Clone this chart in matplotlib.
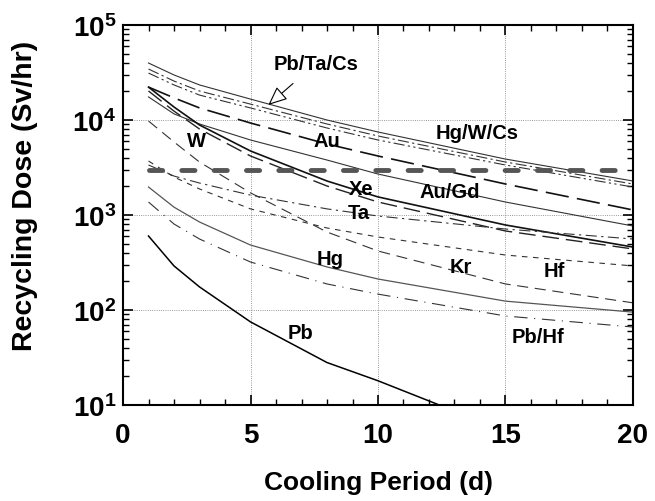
import numpy as np
import matplotlib
matplotlib.use("Agg")
from matplotlib import pyplot as plt
from matplotlib.ticker import FixedLocator, FuncFormatter, LogLocator, NullFormatter

plt.rcParams['font.family'] = ['Liberation Sans', 'DejaVu Sans']
plt.rcParams['font.weight'] = 'bold'
plt.rcParams['mathtext.fontset'] = 'custom'
plt.rcParams['mathtext.rm'] = 'Liberation Sans:bold'
plt.rcParams['mathtext.bf'] = 'Liberation Sans:bold'

# cooling period (d) where curves were read
days = [1, 2, 3, 5, 8, 10, 15, 20]

# recycling dose (Sv/hr)
pbtacs_solid = [39800, 29800, 23400, 16600, 10000, 7480, 3880, 2280]
pbtacs_dashdot = [34400, 25700, 20200, 14700, 9080, 6790, 3610, 2120]
hgwcs = [31200, 23400, 18300, 13400, 8240, 6160, 3360, 1970]
au_dash = [22200, 17100, 13400, 9300, 5590, 4180, 2120, 1130]
au_solid = [17500, 11600, 9080, 6160, 3790, 2700, 1370, 766]
w_solid = [22200, 13700, 8860, 4720, 2280, 1550, 785, 460]
w_dash = [20200, 12400, 8040, 4180, 2020, 1370, 679, 439]
ta = [3360, 2570, 2170, 1620, 1160, 976, 712, 559]
hf = [3700, 2510, 1880, 1160, 730, 587, 379, 291]
kr = [9760, 5870, 3610, 1710, 662, 418, 188, 119]
hg = [1970, 1210, 844, 483, 284, 212, 124, 95]
pbhf = [1370, 804, 559, 320, 188, 147, 86.5, 66.2]

pb_days = [1, 2, 3, 5, 8, 10, 15]
pb = [601, 291, 175, 75, 28, 18, 5.3]

limit_days = [1, 20]
limit_dose = [3000, 3000]

fig = plt.figure(figsize=(6.55, 5.02), dpi=100)
ax = fig.add_axes([0.1878, 0.1912, 0.7786, 0.757])

thin = dict(color='#333333', lw=0.8)
ax.plot(days, pbtacs_solid, '-', **thin)
ax.plot(days, pbtacs_dashdot, linestyle=(0, (10, 3, 2, 3)), **thin)
ax.plot(days, hgwcs, linestyle=(0, (10, 3, 2, 3, 2, 3)), **thin)
ax.plot(days, au_dash, linestyle=(0, (14, 5)), color='#111111', lw=1.2)
ax.plot(days, au_solid, '-', **thin)
ax.plot(days, w_solid, '-', color='#111111', lw=1.2)
ax.plot(days, w_dash, linestyle=(0, (12, 5)), color='#222222', lw=1.0)
ax.plot(days, ta, linestyle=(0, (10, 4, 2, 4)), **thin)
ax.plot(days, hf, linestyle=(0, (5, 5)), **thin)
ax.plot(days, kr, linestyle=(0, (10, 6)), **thin)
ax.plot(days, hg, '-', color='#555555', lw=0.9)
ax.plot(days, pbhf, linestyle=(0, (12, 6, 1, 6)), **thin)
ax.plot(pb_days, pb, '-', color='black', lw=1.1)

ax.plot(limit_days, limit_dose, linestyle=(0, (2.7, 3.95)), color='#555555',
        lw=3.5, dash_capstyle='round')

ax.set_yscale('log')
ax.set_xlim(0, 20)
ax.set_ylim(10, 1e5)

for v in [5, 10, 15]:
  ax.axvline(v, color='#777777', lw=0.6, linestyle=':', zorder=0)
for v in [1e2, 1e3, 1e4]:
  ax.axhline(v, color='#777777', lw=0.6, linestyle=':', zorder=0)

ax.xaxis.set_major_locator(FixedLocator([0, 5, 10, 15, 20]))
ax.xaxis.set_minor_locator(FixedLocator(np.arange(0, 21, 1)))
ax.yaxis.set_major_locator(LogLocator(base=10, numticks=10))
ax.yaxis.set_minor_locator(LogLocator(base=10, subs=np.arange(2, 10), numticks=10))
ax.yaxis.set_minor_formatter(NullFormatter())
ax.yaxis.set_major_formatter(FuncFormatter(lambda v, p: r'$\mathbf{10^{%d}}$' % int(round(np.log10(v)))))

ax.tick_params(which='both', direction='in', top=True, right=True, labelsize=20)
ax.tick_params(which='major', length=7, width=1.2)
ax.tick_params(which='minor', length=4, width=1.0)
ax.tick_params(axis='x', which='major', pad=12)
ax.tick_params(axis='y', which='major', pad=5)
for lbl in ax.get_xticklabels():
  lbl.set_fontweight('bold')
for s in ax.spines.values():
  s.set_linewidth(1.5)

ax.set_xlabel('Cooling Period (d)', fontsize=19, fontweight='bold')
ax.set_ylabel('Recycling Dose (Sv/hr)', fontsize=20.5, fontweight='bold')
ax.xaxis.set_label_coords(0.5, -0.172)
ax.yaxis.set_label_coords(-0.167, 0.553)

labels = [
  ('Au', 7.99, 6150), ('W', 2.87, 6150), ('Hg/W/Cs', 13.87, 7300),
  ('Xe', 9.35, 1920), ('Ta', 9.23, 1060), ('Au/Gd', 12.81, 1750),
  ('Hg', 8.13, 352), ('Kr', 13.24, 284), ('Hf', 16.9, 262),
  ('Pb/Hf', 16.27, 52), ('Pb', 6.95, 58.6),
]
for name, lx, ly in labels:
  ax.text(lx, ly, name, ha='center', va='center', fontsize=14.5, fontweight='bold')

ax.annotate('Pb/Ta/Cs', xy=(5.7, 14400), xytext=(7.59, 39800),
            ha='center', va='center', fontsize=14.5, fontweight='bold',
            arrowprops=dict(arrowstyle='-|>,head_length=0.8,head_width=0.35',
                            fc='white', ec='black', lw=0.8, shrinkA=9, shrinkB=0))

fig.savefig('out.png', dpi=100)
